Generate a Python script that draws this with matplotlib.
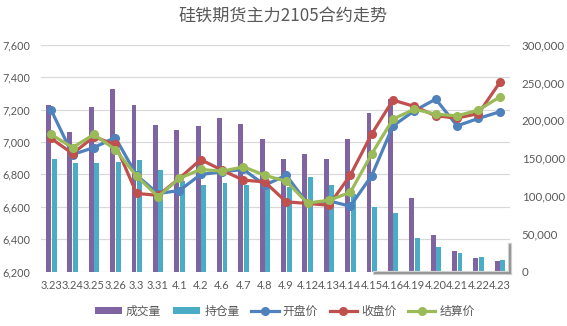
import numpy as np
import matplotlib
matplotlib.use("Agg")
import matplotlib.pyplot as plt
from matplotlib.lines import Line2D
from matplotlib.ticker import FuncFormatter

plt.rcParams['font.family'] = ['Noto Sans CJK SC', 'DejaVu Sans']

# SF2105 daily data
dates = ['3.23', '3.24', '3.25', '3.26', '3.3', '3.31', '4.1', '4.2', '4.6', '4.7', '4.8',
         '4.9', '4.12', '4.13', '4.14', '4.15', '4.16', '4.19', '4.20', '4.21', '4.22', '4.23']
volume = [220000, 184700, 217400, 241200, 220000, 193600, 187000, 192300, 202900, 194900, 175100,
          148700, 155300, 148700, 175100, 209500, 228000, 97000, 48200, 27100, 17800, 13900]
open_interest = [148700, 143400, 143400, 145000, 147400, 134100, 119800, 114300, 117400, 114300, 116000,
                 112000, 125300, 114300, 102800, 85200, 77700, 44300, 32400, 24400, 19200, 15600]
open_price = [7196, 6922, 6965, 7027, 6794, 6681, 6700, 6799, 6815, 6830, 6733,
              6794, 6620, 6636, 6603, 6791, 7099, 7192, 7264, 7099, 7145, 7186]
close_price = [7021, 6928, 7031, 6984, 6682, 6670, 6775, 6891, 6825, 6764, 6753,
               6630, 6620, 6609, 6794, 7048, 7258, 7219, 7161, 7147, 7175, 7367]
settle_price = [7046, 6965, 7046, 6953, 6789, 6662, 6775, 6830, 6819, 6846, 6794,
                6757, 6622, 6640, 6688, 6925, 7141, 7202, 7171, 7161, 7196, 7278]

grey = '#595959'
num_font = ['Lato', 'DejaVu Sans']

W, H = 567, 326
fig = plt.figure(figsize=(W / 100, H / 100), dpi=100)
ax = fig.add_axes([40.5 / W, 1 - 271.5 / H, 470 / W, 226.8 / H])
ax_vol = ax.twinx()
ax_line = ax.twinx()

x = np.arange(len(dates))

# price grid on the bottom layer
ax.set_ylim(6200, 7600)
ax.set_yticks(np.arange(6200, 7601, 200))
ax.yaxis.grid(True, color='#D9D9D9', lw=0.9)
ax.set_axisbelow(True)
ax.yaxis.set_major_formatter(FuncFormatter(lambda v, p: f'{v:,.0f}'))
ax.set_xlim(-0.5, len(dates) - 0.5)
ax.set_xticks(x)
ax.set_xticklabels(dates)

# volume bars
bw = 0.23
ax_vol.bar(x - 0.125, volume, bw, color='#8064A2', label='成交量')
ax_vol.bar(x + 0.135, open_interest, bw, color='#4BACC6', label='持仓量')
ax_vol.set_ylim(0, 300000)
ax_vol.set_yticks(np.arange(0, 300001, 50000))
ax_vol.yaxis.set_major_formatter(FuncFormatter(lambda v, p: f'{v:,.0f}'))

# price lines
ax_line.plot(x, open_price, color='#4F81BD', lw=2.3, marker='o', ms=5.5, label='开盘价')
ax_line.plot(x, close_price, color='#C0504D', lw=2.3, marker='o', ms=5.5, label='收盘价')
ax_line.plot(x, settle_price, color='#9BBB59', lw=2.3, marker='o', ms=5.5, label='结算价')
ax_line.set_ylim(6200, 7600)
ax_line.yaxis.set_visible(False)

for a in (ax, ax_vol, ax_line):
    for s in a.spines.values():
        s.set_visible(False)

ax.tick_params(axis='y', length=0, pad=7.5, labelsize=7.8, labelcolor=grey)
ax.tick_params(axis='x', length=0, pad=6, labelsize=8, labelcolor=grey)
ax_vol.tick_params(axis='y', length=0, pad=8, labelsize=8.3, labelcolor=grey)
for lab in ax.get_xticklabels() + ax.get_yticklabels() + ax_vol.get_yticklabels():
    lab.set_fontfamily(num_font)

fig.text(0.5, 1 - 16 / H, '硅铁期货主力2105合约走势', ha='center', va='center',
         fontsize=12.3, color=grey)

handles = ax_vol.get_legend_handles_labels()[0] + ax_line.get_legend_handles_labels()[0]
labels = ax_vol.get_legend_handles_labels()[1] + ax_line.get_legend_handles_labels()[1]
fig.legend(handles, labels, loc='center', bbox_to_anchor=(0.502, 1 - 311 / H), ncol=5,
           frameon=False, fontsize=8.5, labelcolor=grey, handlelength=2.3,
           handleheight=0.5, columnspacing=1.0, handletextpad=0.35)

# shadowed outline in the lower right corner
for lw, c in ((3.0, '#d0d0d0'), (1.2, '#8c8c8c')):
    fig.add_artist(Line2D([510 / W, 510 / W], [1 - 245 / H, 1 - 273 / H],
                          transform=fig.transFigure, color=c, lw=lw))
    fig.add_artist(Line2D([375 / W, 510 / W], [1 - 273 / H, 1 - 273 / H],
                          transform=fig.transFigure, color=c, lw=lw))

fig.savefig('out.png', dpi=100)
